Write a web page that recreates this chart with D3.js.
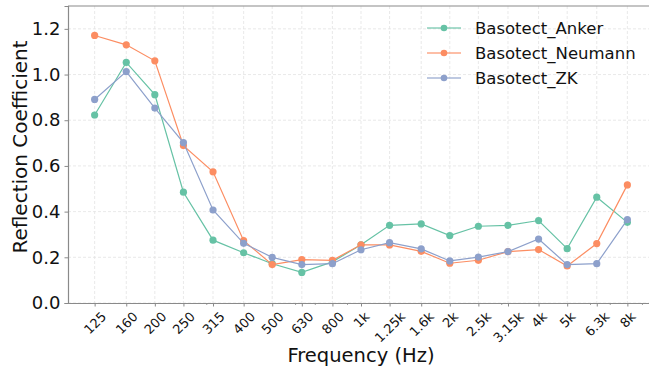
<!DOCTYPE html>
<html>
<head>
<meta charset="utf-8">
<script src="https://cdn.jsdelivr.net/npm/d3@7"></script>
<style>
  body { margin: 0; background: #fff; }
  svg { font-family: "DejaVu Sans", sans-serif; }
</style>
</head>
<body>
<div class="chart"></div>
<script>
const freqs = [125, 160, 200, 250, 315, 400, 500, 630, 800, 1000, 1250, 1600, 2000, 2500, 3150, 4000, 5000, 6300, 8000];
const freqLabels = ["125", "160", "200", "250", "315", "400", "500", "630", "800", "1k", "1.25k", "1.6k", "2k", "2.5k", "3.15k", "4k", "5k", "6.3k", "8k"];
const minorTicks = [300, 600, 700, 900, 3000, 6000, 7000, 9000];
const yTicks = [0, 0.2, 0.4, 0.6, 0.8, 1.0, 1.2];

const anker = [0.823, 1.053, 0.912, 0.485, 0.275, 0.220, 0.172, 0.134, 0.180, 0.255, 0.340, 0.346, 0.295, 0.336, 0.340, 0.361, 0.238, 0.463, 0.353];
const neumann = [1.171, 1.130, 1.060, 0.689, 0.574, 0.273, 0.168, 0.190, 0.187, 0.255, 0.254, 0.226, 0.174, 0.187, 0.225, 0.234, 0.162, 0.260, 0.517];
const zk = [0.891, 1.013, 0.853, 0.702, 0.407, 0.261, 0.200, 0.168, 0.172, 0.233, 0.264, 0.237, 0.184, 0.201, 0.225, 0.280, 0.168, 0.172, 0.365];

const seriesNames = ["Basotect_Anker", "Basotect_Neumann", "Basotect_ZK"];
const colors = ["#66c2a5", "#fc8d62", "#8da0cb"];

function drawChart() {
    const w = 649, h = 367;
    const margin = { top: 6, left: 68 };
    const plotW = 586, plotH = 297;

    const svg = d3.select('.chart').append('svg')
        .attr('width', w).attr('height', h);

    // 5% log padding like matplotlib
    const lo = Math.log10(freqs[0]), hi = Math.log10(freqs[freqs.length - 1]);
    const pad = (hi - lo) * 0.05;
    const xScale = d3.scaleLog()
        .domain([Math.pow(10, lo - pad), Math.pow(10, hi + pad)])
        .range([0, plotW]);
    const yScale = d3.scaleLinear().domain([0, 1.3]).range([plotH, 0]);

    const g = svg.append('g')
        .attr('transform', 'translate(' + margin.left + ',' + margin.top + ')');

    // grid
    g.append('g').selectAll('line.gx').data(freqs).enter().append('line')
        .attr('x1', d => xScale(d)).attr('x2', d => xScale(d))
        .attr('y1', 0).attr('y2', plotH)
        .attr('stroke', '#e3e3e3').attr('stroke-width', 0.8).attr('stroke-dasharray', '3,2');
    g.append('g').selectAll('line.gy').data(yTicks).enter().append('line')
        .attr('x1', 0).attr('x2', plotW)
        .attr('y1', d => yScale(d)).attr('y2', d => yScale(d))
        .attr('stroke', '#e3e3e3').attr('stroke-width', 0.8).attr('stroke-dasharray', '3,2');

    // spines
    g.append('line').attr('x1', 0).attr('x2', plotW).attr('y1', 0).attr('y2', 0)
        .attr('stroke', '#8a8a8a').attr('stroke-width', 1.2);

    // y axis
    const yAxis = d3.axisLeft(yScale).tickValues(yTicks).tickFormat(d3.format('.1f'))
        .tickSize(3.5).tickPadding(4);
    const ya = g.append('g').call(yAxis);
    ya.select('.domain').attr('stroke', '#8a8a8a').attr('stroke-width', 1.2);
    ya.selectAll('.tick line').attr('stroke', '#8a8a8a');
    ya.selectAll('.tick text').attr('font-size', 18).attr('fill', '#111')
        .attr('font-family', '"DejaVu Sans", sans-serif');

    // x axis
    const xAxis = d3.axisBottom(xScale).tickValues(freqs)
        .tickFormat((d, i) => freqLabels[i]).tickSize(3.5).tickSizeOuter(0);
    const xa = g.append('g').attr('transform', 'translate(0,' + plotH + ')').call(xAxis);
    xa.select('.domain').attr('stroke', '#8a8a8a').attr('stroke-width', 1.2);
    xa.selectAll('.tick line').attr('stroke', '#8a8a8a');
    xa.selectAll('.tick text')
        .attr('font-size', 13).attr('fill', '#111')
        .attr('font-family', '"DejaVu Sans", sans-serif')
        .attr('text-anchor', 'middle').attr('dy', null)
        .attr('dominant-baseline', 'central')
        .each(function () {
            const t = d3.select(this);
            const tw = this.getComputedTextLength();
            const th = 12;
            const yc = 7 + (tw + th) * 0.7071 / 2;
            t.attr('y', null).attr('x', 0)
                .attr('transform', 'translate(0,' + yc + ') rotate(-45)');
        });
    xa.selectAll('line.minor').data(minorTicks).enter().append('line')
        .attr('class', 'minor')
        .attr('x1', d => xScale(d)).attr('x2', d => xScale(d))
        .attr('y1', 0).attr('y2', 2)
        .attr('stroke', '#8a8a8a').attr('stroke-width', 0.8);

    // lines
    const allSeries = [anker, neumann, zk];
    const line = d3.line().x((d, i) => xScale(freqs[i])).y(d => yScale(d));
    allSeries.forEach((vals, si) => {
        g.append('path').datum(vals)
            .attr('d', line).attr('fill', 'none')
            .attr('stroke', colors[si]).attr('stroke-width', 1.2);
        g.append('g').selectAll('circle').data(vals).enter().append('circle')
            .attr('cx', (d, i) => xScale(freqs[i])).attr('cy', d => yScale(d))
            .attr('r', 3.6).attr('fill', colors[si]);
    });

    // axis labels
    svg.append('text')
        .attr('x', margin.left + xScale(1000)).attr('y', 362)
        .attr('text-anchor', 'middle').attr('font-size', 19.5).attr('fill', '#111')
        .text('Frequency (Hz)');
    svg.append('text')
        .attr('transform', 'rotate(-90)')
        .attr('x', -147).attr('y', 27)
        .attr('text-anchor', 'middle').attr('font-size', 20).attr('fill', '#111')
        .text('Reflection Coefficient');

    // legend
    const legend = svg.append('g');
    seriesNames.forEach((name, i) => {
        const ly = 28 + i * 25;
        legend.append('line').attr('x1', 427).attr('x2', 461).attr('y1', ly).attr('y2', ly)
            .attr('stroke', colors[i]).attr('stroke-width', 1.5).attr('opacity', 0.75);
        legend.append('circle').attr('cx', 444).attr('cy', ly).attr('r', 3.3)
            .attr('fill', colors[i]);
        legend.append('text').attr('x', 475).attr('y', ly).attr('dy', '0.35em')
            .attr('font-size', 16.5).attr('fill', '#111').text(name);
    });
}

drawChart();
</script>
</body>
</html>
